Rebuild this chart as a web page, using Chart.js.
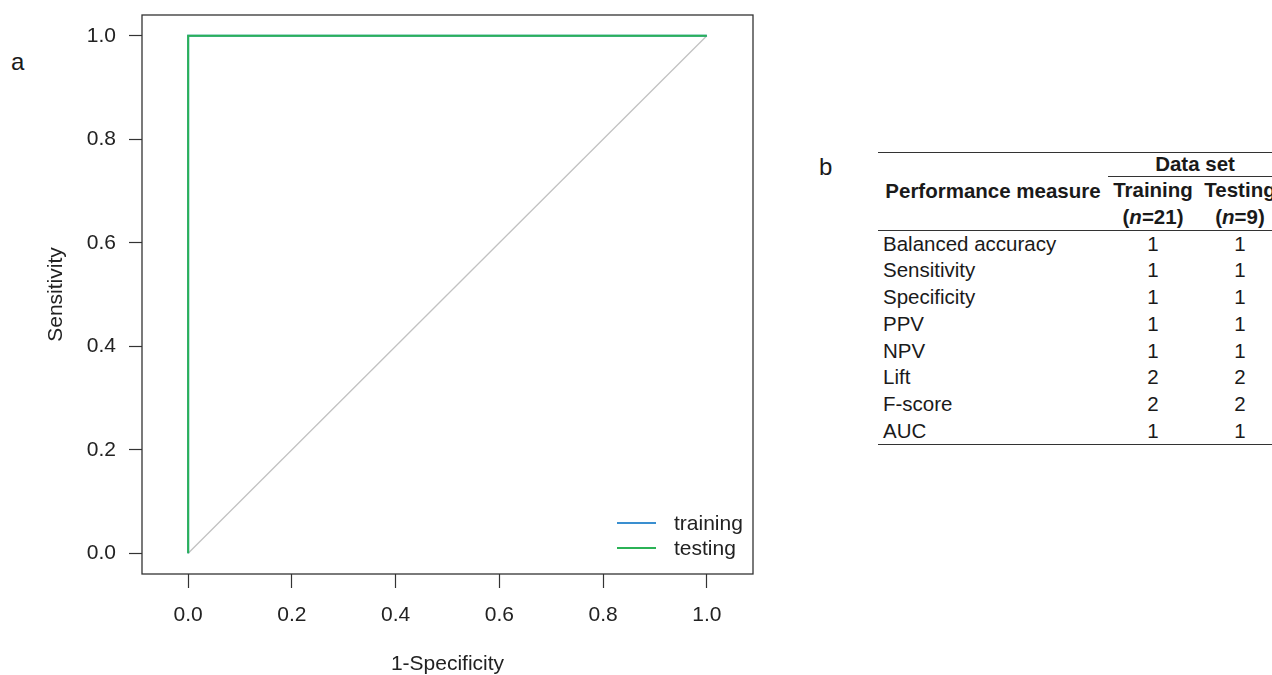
<!DOCTYPE html>
<html>
<head>
<meta charset="utf-8">
<title>ROC curve and performance table</title>
<script src="https://cdn.jsdelivr.net/npm/chart.js@4.4.1/dist/chart.umd.min.js"></script>
<style>
  html, body { margin: 0; padding: 0; background: #fff; overflow: hidden; }
  body { width: 1272px; height: 675px; position: relative; font-family: "Liberation Sans", Arial, sans-serif; color: #1a1a1a; }
  .panel-label { position: absolute; font-size: 24px; line-height: 1; }
  #rocChart { position: absolute; left: 0; top: 0; }
  #legend { position: absolute; left: 617px; top: 510px; font-size: 21px; color: #222; }
  .leg-item { display: flex; align-items: center; height: 25.6px; }
  .leg-line { width: 39px; height: 2px; margin-right: 18px; }
  #tableBox { position: absolute; left: 878px; top: 152px; width: 420px; }
  table { border-collapse: collapse; table-layout: fixed; width: 404px; font-size: 20.5px; border-top: 1.5px solid #333; border-bottom: 1.5px solid #333; }
  td { padding: 0; line-height: 1; white-space: nowrap; overflow: visible; }
  .c2, .c3 { text-align: center; }
  .bold { font-weight: bold; }
  .rule { border-bottom: 1.5px solid #333; }
  .row td.name { padding-left: 5px; }
</style>
</head>
<body>
<div class="panel-label" style="left:11px; top:50px;">a</div>
<div class="panel-label" style="left:819px; top:155px;">b</div>

<canvas id="rocChart" width="790" height="678"></canvas>
<div id="legend"></div>

<div id="tableBox">
  <table id="perfTable">
    <colgroup>
      <col style="width:230px">
      <col style="width:90px">
      <col style="width:84px">
    </colgroup>
    <tr style="height:24px">
      <td class="bold rule" rowspan="3" style="text-align:center; vertical-align:middle;">Performance measure</td>
      <td class="bold rule" colspan="2" style="text-align:center;">Data set</td>
    </tr>
    <tr style="height:27px">
      <td class="c2 bold">Training</td>
      <td class="c3 bold">Testing</td>
    </tr>
    <tr style="height:27px">
      <td class="c2 bold rule">(<i>n</i>=21)</td>
      <td class="c3 bold rule">(<i>n</i>=9)</td>
    </tr>
  </table>
</div>

<script>
// ROC curve (panel a)
const tickValues = [0, 0.2, 0.4, 0.6, 0.8, 1.0];
const trainingFpr = [0, 0, 1];
const trainingTpr = [0, 1, 1];
const testingFpr = [0, 0, 1];
const testingTpr = [0, 1, 1];
const chanceFpr = [0, 1];
const chanceTpr = [0, 1];

// performance table (panel b)
const measureNames = ["Balanced accuracy", "Sensitivity", "Specificity", "PPV", "NPV", "Lift", "F-score", "AUC"];
const trainingValues = [1, 1, 1, 1, 1, 2, 2, 1];
const testingValues = [1, 1, 1, 1, 1, 2, 2, 1];

const toPoints = (xs, ys) => xs.map((x, i) => ({ x: x, y: ys[i] }));

const tickFont = { family: "'Liberation Sans', Arial, sans-serif", size: 21 };

// R-style box around the plot region
const boxPlugin = {
  id: "box",
  afterDraw(chart) {
    const { ctx, chartArea: a } = chart;
    ctx.save();
    ctx.strokeStyle = "#333";
    ctx.lineWidth = 1.3;
    ctx.strokeRect(a.left, a.top, a.right - a.left, a.bottom - a.top);
    ctx.restore();
  }
};

const ctx = document.getElementById("rocChart").getContext("2d");
const rocChart = new Chart(ctx, {
  type: "scatter",
  data: {
    datasets: [
      {
        label: "testing",
        data: toPoints(testingFpr, testingTpr),
        borderColor: "#2bb256",
        backgroundColor: "#2bb256",
        borderWidth: 2,
        showLine: true,
        pointRadius: 0,
        order: 0
      },
      {
        label: "training",
        data: toPoints(trainingFpr, trainingTpr),
        borderColor: "#3a8fd0",
        backgroundColor: "#3a8fd0",
        borderWidth: 2,
        showLine: true,
        pointRadius: 0,
        order: 1
      },
      {
        label: "chance",
        data: toPoints(chanceFpr, chanceTpr),
        borderColor: "#c2c2c2",
        borderWidth: 1.3,
        showLine: true,
        pointRadius: 0,
        order: 2
      }
    ]
  },
  options: {
    responsive: false,
    animation: false,
    devicePixelRatio: 1,
    layout: { padding: { top: 15, right: 37, left: 0, bottom: 0 } },
    plugins: {
      legend: { display: false },
      tooltip: { enabled: false }
    },
    scales: {
      x: {
        type: "linear",
        min: -0.089,
        max: 1.089,
        afterBuildTicks: (scale) => { scale.ticks = tickValues.map(v => ({ value: v })); },
        afterFit: (scale) => { scale.height = 104; scale.paddingLeft = 0; scale.paddingRight = 0; },
        ticks: { color: "#222", font: tickFont, padding: 15, maxRotation: 0, callback: (v) => Number(v).toFixed(1) },
        grid: { drawOnChartArea: false, drawTicks: true, tickLength: 14, color: "#333", tickWidth: 1.2 },
        border: { display: false },
        title: { display: true, text: "1-Specificity", color: "#222", font: tickFont, padding: { top: 0, bottom: 1 } }
      },
      y: {
        type: "linear",
        min: -0.04,
        max: 1.04,
        afterBuildTicks: (scale) => { scale.ticks = tickValues.map(v => ({ value: v })); },
        afterFit: (scale) => { scale.width = 142; scale.paddingTop = 0; scale.paddingBottom = 0; },
        ticks: { color: "#222", font: tickFont, padding: 13, callback: (v) => Number(v).toFixed(1) },
        grid: { drawOnChartArea: false, drawTicks: true, tickLength: 13, color: "#333", tickWidth: 1.2 },
        border: { display: false },
        title: { display: true, text: "Sensitivity", color: "#222", font: tickFont, padding: { top: 44, bottom: 0 } }
      }
    }
  },
  plugins: [boxPlugin]
});

// legend for the two ROC curves, taken from the chart's datasets
const legendEl = document.getElementById("legend");
["training", "testing"].forEach(name => {
  const ds = rocChart.data.datasets.find(d => d.label === name);
  const item = document.createElement("div");
  item.className = "leg-item";
  item.innerHTML = '<span class="leg-line" style="background:' + ds.borderColor + '"></span><span>' + ds.label + "</span>";
  legendEl.appendChild(item);
});

// table body rows
const table = document.getElementById("perfTable");
measureNames.forEach((name, i) => {
  const tr = document.createElement("tr");
  tr.className = "row";
  tr.style.height = "26.75px";
  tr.innerHTML = '<td class="name">' + name + '</td><td class="c2">' + trainingValues[i] + '</td><td class="c3">' + testingValues[i] + "</td>";
  table.appendChild(tr);
});
</script>
</body>
</html>
